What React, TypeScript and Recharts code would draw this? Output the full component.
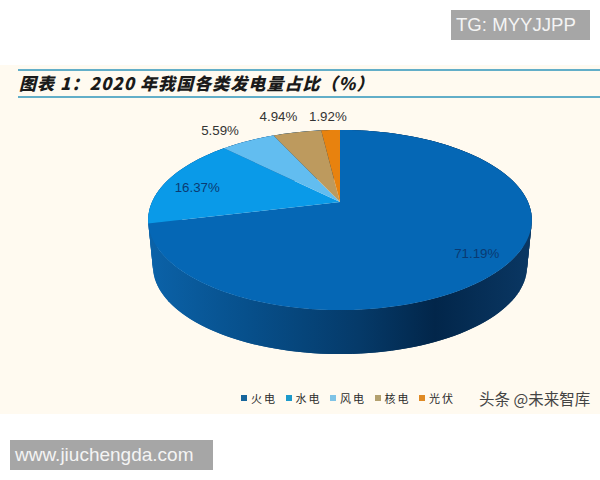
import { PieChart, Pie, Legend } from "recharts";

const categories = ["火电", "水电", "风电", "核电", "光伏"];
const shares = [71.19, 16.37, 5.59, 4.94, 1.92];
const sliceColors = ["#0567b5", "#0a9ae8", "#62bdf0", "#bd9a5e", "#e8820e"];
const legendColors = ["#17659c", "#1d9acb", "#7fc3e6", "#b3a06e", "#df8a24"];
const labelDx = [0, 1, -11, -11, -1];
const labelDy = [2, 4, 1, -3, -1];

const rows = categories.map((name, i) => ({ name, value: shares[i], fill: sliceColors[i] }));

const CX = 340;
const CY = 202;
const RX = 188;
// the reference pie is drawn in perspective, so the far side is squeezed
const TILT = 0.46;
const PERSP = 0.2;
const FLOOR_DY = 46.7;
const FLOOR_SCALE = 0.975;
const RAD = Math.PI / 180;

function project(angle: number, r = 1) {
  const t = (90 - angle) * RAD;
  const u = Math.sin(t) * r;
  const v = Math.cos(t) * r;
  const w = 1 + PERSP * v;
  return { x: (RX * u) / w, y: (-RX * TILT * v) / w };
}

function arcPoints(from: number, to: number) {
  const n = Math.max(2, Math.ceil(Math.abs(to - from) / 2));
  const pts = [];
  for (let i = 0; i <= n; i++) pts.push(project(from + ((to - from) * i) / n));
  return pts;
}

function TopSlice(props: any) {
  const { startAngle, endAngle, fill } = props;
  const d = arcPoints(startAngle, endAngle)
    .map((p) => `L${CX + p.x},${CY + p.y}`)
    .join(" ");
  return <path d={`M${CX},${CY} ${d} Z`} fill={fill} stroke="none" />;
}

// overlapping quads between rim and floor, so the silhouette stays smooth at the sides
function WallSlice(props: any) {
  const { startAngle, endAngle } = props;
  const pts = arcPoints(startAngle, endAngle);
  const quads = [];
  for (let i = 0; i < pts.length - 1; i++) {
    const a = pts[i];
    const b = pts[Math.min(i + 2, pts.length - 1)];
    quads.push(
      <polygon
        key={i}
        points={[
          `${CX + a.x},${CY + a.y}`,
          `${CX + b.x},${CY + b.y}`,
          `${CX + b.x * FLOOR_SCALE},${CY + FLOOR_DY + b.y * FLOOR_SCALE}`,
          `${CX + a.x * FLOOR_SCALE},${CY + FLOOR_DY + a.y * FLOOR_SCALE}`,
        ].join(" ")}
        fill="url(#wallShade)"
        stroke="none"
      />
    );
  }
  return <g>{quads}</g>;
}

function SliceLabel(props: any) {
  const { midAngle, value, index } = props;
  const inside = index < 2;
  const p = project(midAngle, inside ? 0.83 : 1.22);
  return (
    <text
      x={CX + p.x + labelDx[index]}
      y={CY + p.y + labelDy[index]}
      textAnchor="middle"
      dominantBaseline="central"
      fontFamily="Liberation Sans"
      fontSize={13.3}
      fill={inside ? "#0a3a72" : "#333333"}
    >
      {`${value.toFixed(2)}%`}
    </text>
  );
}

function LegendRow() {
  return (
    <div style={{ display: "flex", fontFamily: "Noto Sans CJK SC", fontSize: 11, color: "#2b2b2b" }}>
      {categories.map((name, i) => (
        <div key={name} style={{ width: 44.5, display: "flex", alignItems: "center" }}>
          <span style={{ width: 6, height: 6, marginRight: 4, background: legendColors[i] }} />
          <span style={{ letterSpacing: 2, lineHeight: "16px" }}>{name}</span>
        </div>
      ))}
    </div>
  );
}

const boxStyle = {
  position: "absolute" as const,
  background: "#a6a6a6",
  color: "#f4f4f4",
  fontFamily: "Liberation Sans",
  height: 30,
  lineHeight: "30px",
  whiteSpace: "nowrap" as const,
};

export default function App() {
  return (
    <div style={{ position: "absolute", left: 0, top: 0, width: 600, height: 480, background: "#fff", overflow: "hidden" }}>
      <div style={{ position: "absolute", left: 0, top: 65, width: 600, height: 349, background: "#fffaf0" }} />
      <div style={{ position: "absolute", left: 18, top: 69, width: 582, height: 2, background: "#62aec8" }} />
      <div style={{ position: "absolute", left: 18, top: 96, width: 582, height: 2, background: "#62aec8" }} />
      <div
        style={{
          position: "absolute",
          left: 19,
          top: 71,
          fontFamily: "Noto Sans CJK SC",
          fontWeight: 900,
          fontStyle: "italic",
          fontSize: 17,
          letterSpacing: 1.05,
          lineHeight: "24px",
          color: "#1a1a1a",
          whiteSpace: "nowrap",
        }}
      >
        图表 1：2020 年我国各类发电量占比（%）
      </div>
      <div style={{ position: "absolute", left: 0, top: 0 }}>
        <PieChart width={600} height={480} margin={{ top: 0, right: 0, bottom: 0, left: 0 }}>
          <defs>
            <linearGradient id="wallShade" gradientUnits="userSpaceOnUse" x1={150} y1={0} x2={530} y2={0}>
              <stop offset="0" stopColor="#0b62a8" />
              <stop offset="0.25" stopColor="#07508c" />
              <stop offset="0.55" stopColor="#053a69" />
              <stop offset="0.75" stopColor="#02264a" />
              <stop offset="1" stopColor="#0a3763" />
            </linearGradient>
          </defs>
          <Pie
            data={rows}
            dataKey="value"
            nameKey="name"
            cx={CX}
            cy={CY}
            outerRadius={RX}
            startAngle={90}
            endAngle={-270}
            legendType="none"
            isAnimationActive={false}
            shape={WallSlice}
          />
          <Pie
            data={rows}
            dataKey="value"
            nameKey="name"
            cx={CX}
            cy={CY}
            outerRadius={RX}
            startAngle={90}
            endAngle={-270}
            isAnimationActive={false}
            shape={TopSlice}
            label={SliceLabel}
            labelLine={false}
          />
          <Legend content={LegendRow} wrapperStyle={{ left: 241, top: 390, width: 230, bottom: "auto" }} />
        </PieChart>
      </div>
      <div
        style={{
          position: "absolute",
          left: 479,
          top: 387,
          fontFamily: "Noto Sans CJK SC",
          fontSize: 15.5,
          lineHeight: "22px",
          color: "#444",
          whiteSpace: "nowrap",
        }}
      >
        头条 @未来智库
      </div>
      <div style={{ ...boxStyle, left: 451, top: 10, width: 134, paddingLeft: 5, fontSize: 18.6 }}>TG: MYYJJPP</div>
      <div style={{ ...boxStyle, left: 10, top: 440, width: 198, paddingLeft: 5, fontSize: 19 }}>www.jiuchengda.com</div>
    </div>
  );
}
